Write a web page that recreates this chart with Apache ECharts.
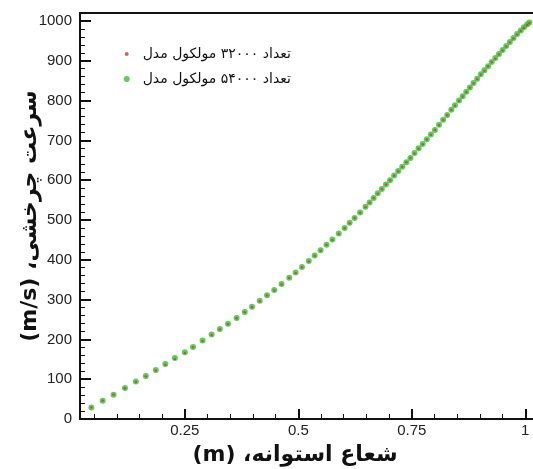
<!DOCTYPE html>
<html>
<head>
<meta charset="utf-8">
<script src="https://cdn.jsdelivr.net/npm/echarts@6/dist/echarts.min.js"></script>
<style>
html,body{margin:0;padding:0;background:#fff;}
#chart{width:533px;height:469px;}
</style>
</head>
<body>
<div id="chart"></div>
<script>
// Radius positions (m) of the sample points
var radiusValues = [
  0.044, 0.069, 0.093, 0.118, 0.142, 0.164, 0.186, 0.207, 0.228, 0.250,
  0.268, 0.289, 0.309, 0.327, 0.345, 0.364, 0.382, 0.398, 0.415, 0.431,
  0.447, 0.463, 0.480, 0.494, 0.508, 0.523, 0.536, 0.549, 0.562, 0.575,
  0.589, 0.602, 0.613, 0.624, 0.636, 0.648, 0.657, 0.666, 0.675, 0.684,
  0.693, 0.702, 0.711, 0.720, 0.729, 0.738, 0.747, 0.756, 0.765, 0.774,
  0.783, 0.792, 0.801, 0.810, 0.819, 0.828, 0.837, 0.845, 0.854, 0.862,
  0.870, 0.878, 0.886, 0.894, 0.902, 0.910, 0.918, 0.926, 0.934, 0.942,
  0.950, 0.958, 0.966, 0.974, 0.982, 0.990, 0.997, 1.004, 1.009
];
// Rotational speed (m/s), model with 54000 molecules (green)
var speed54000 = [
  29, 46, 61, 78, 94, 108, 123, 138, 153, 168,
  181, 197, 212, 226, 239, 254, 269, 282, 297, 311,
  324, 339, 355, 368, 382, 397, 411, 424, 438, 451,
  466, 480, 493, 505, 519, 533, 544, 555, 567, 578,
  589, 600, 612, 623, 634, 645, 656, 668, 680, 691,
  703, 715, 726, 739, 752, 764, 777, 788, 800, 811,
  822, 833, 844, 855, 866, 876, 886, 897, 907, 917,
  927, 937, 947, 957, 967, 976, 984, 991, 996
];
// Rotational speed (m/s), model with 32000 molecules (red)
var speed32000 = [
  29, 46, 61, 77, 93, 107, 122, 136, 151, 166,
  180, 196, 211, 225, 238, 253, 268, 281, 296, 310,
  323, 338, 354, 367, 381, 396, 410, 423, 437, 450,
  465, 479, 492, 505, 518, 532, 543, 555, 566, 577,
  589, 600, 611, 622, 633, 645, 656, 667, 679, 690,
  702, 714, 726, 738, 751, 763, 776, 787, 799, 810,
  821, 832, 843, 854, 865, 875, 886, 896, 906, 916,
  926, 936, 946, 956, 966, 975, 983, 990, 995
];
var xTickLabels = [0.25, 0.5, 0.75, 1];
var xMinorTicks = [0.05, 0.1, 0.15, 0.2, 0.3, 0.35, 0.4, 0.45, 0.55, 0.6, 0.65, 0.7, 0.8, 0.85, 0.9, 0.95];
var yTickLabels = [0, 100, 200, 300, 400, 500, 600, 700, 800, 900, 1000];
var yMinorTicks = [20,40,60,80,120,140,160,180,220,240,260,280,320,340,360,380,420,440,460,480,
  520,540,560,580,620,640,660,680,720,740,760,780,820,840,860,880,920,940,960,980,1020];
var name32 = 'تعداد ۳۲۰۰۰ مولکول مدل';
var name54 = 'تعداد ۵۴۰۰۰ مولکول مدل';
var xTitle = '(m) شعاع استوانه،\u200F';
var yTitle = '(m/s) سرعت چرخشی،\u200F';

var X_MIN = 0.019, X_MAX = 1.017, Y_MIN = 0, Y_MAX = 1020;
var chart = echarts.init(document.getElementById('chart'), null, {renderer: 'canvas'});
var labelFont = {fontFamily: 'Liberation Sans', fontSize: 15, color: '#222'};
var option = {
  animation: false,
  backgroundColor: '#fff',
  grid: {left: 80, right: 0, top: 13, bottom: 50, containLabel: false, outerBoundsMode: 'none'},
  legend: [
    {
      data: [{name: name32, icon: 'circle'}],
      orient: 'vertical', left: 124.7, top: 47, padding: 0,
      itemWidth: 4, itemHeight: 4,
      textStyle: {fontFamily: 'DejaVu Sans', fontSize: 14, color: '#111', padding: [0, 0, 0, 9], lineHeight: 14},
      selectedMode: false
    },
    {
      data: [{name: name54, icon: 'circle'}],
      orient: 'vertical', left: 123.7, top: 72, padding: 0,
      itemWidth: 6, itemHeight: 6,
      textStyle: {fontFamily: 'DejaVu Sans', fontSize: 14, color: '#111', padding: [0, 0, 0, 8], lineHeight: 14},
      selectedMode: false
    }
  ],
  xAxis: [
    {
      type: 'value', position: 'bottom', min: X_MIN, max: X_MAX,
      name: xTitle, nameLocation: 'middle', nameGap: 25, nameMoveOverlap: false,
      nameTextStyle: {fontFamily: 'DejaVu Sans', fontWeight: 'bold', fontSize: 22, color: '#111', padding: [0, 23, 0, 0]},
      axisLine: {show: true, lineStyle: {color: '#111', width: 2}},
      axisTick: {show: true, inside: true, length: 10, customValues: xTickLabels, lineStyle: {color: '#111', width: 2}},
      axisLabel: {show: true, margin: 4, customValues: xTickLabels, formatter: function(v){return String(v);}, fontFamily: labelFont.fontFamily, fontSize: labelFont.fontSize, color: labelFont.color},
      splitLine: {show: false}
    },
    {
      type: 'value', position: 'bottom', min: X_MIN, max: X_MAX,
      axisLine: {show: false},
      axisTick: {show: true, inside: true, length: 5, customValues: xMinorTicks, lineStyle: {color: '#111', width: 1}},
      axisLabel: {show: false},
      splitLine: {show: false}
    },
    {
      type: 'value', position: 'top', min: X_MIN, max: X_MAX,
      axisLine: {show: true, lineStyle: {color: '#111', width: 2}},
      axisTick: {show: false}, axisLabel: {show: false}, splitLine: {show: false}
    }
  ],
  yAxis: [
    {
      type: 'value', position: 'left', min: Y_MIN, max: Y_MAX,
      name: yTitle, nameLocation: 'middle', nameGap: 39, nameRotate: 90, nameMoveOverlap: false,
      nameTextStyle: {fontFamily: 'DejaVu Sans', fontWeight: 'bold', fontSize: 22, color: '#111'},
      axisLine: {show: true, lineStyle: {color: '#111', width: 2}},
      axisTick: {show: true, inside: true, length: 11, customValues: yTickLabels, lineStyle: {color: '#111', width: 2}},
      axisLabel: {show: true, margin: 8, customValues: yTickLabels, formatter: function(v){return String(v);}, fontFamily: labelFont.fontFamily, fontSize: labelFont.fontSize, color: labelFont.color},
      splitLine: {show: false}
    },
    {
      type: 'value', position: 'left', min: Y_MIN, max: Y_MAX,
      axisLine: {show: false},
      axisTick: {show: true, inside: true, length: 5, customValues: yMinorTicks, lineStyle: {color: '#111', width: 1}},
      axisLabel: {show: false},
      splitLine: {show: false}
    }
  ],
  series: [
    {
      name: name54, type: 'scatter', xAxisIndex: 0, yAxisIndex: 0,
      symbol: 'circle', symbolSize: 6,
      itemStyle: {color: '#36c030'},
      data: radiusValues.map(function(r, i){ return [r, speed54000[i]]; })
    },
    {
      name: name32, type: 'scatter', xAxisIndex: 0, yAxisIndex: 0,
      symbol: 'circle', symbolSize: 2.5,
      itemStyle: {color: '#b8453c'},
      data: radiusValues.map(function(r, i){ return [r, speed32000[i]]; })
    }
  ]
};
chart.setOption(option);
</script>
</body>
</html>
